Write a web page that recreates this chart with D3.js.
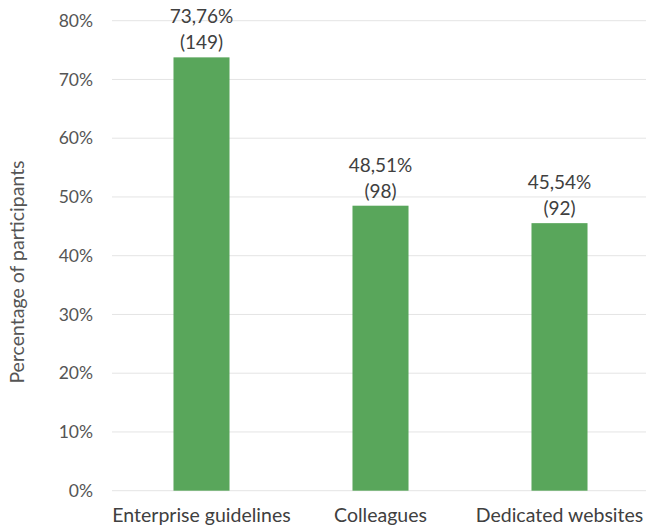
<!DOCTYPE html>
<html>
<head>
<meta charset="utf-8">
<script src="https://cdn.jsdelivr.net/npm/d3@7"></script>
<style>
  body { margin: 0; background: #fff; }
  text { font-family: Lato, "Open Sans", sans-serif; }
</style>
</head>
<body>
<svg id="chart"></svg>
<script>
const width = 646;
const height = 527;
const margin = { top: 20.7, right: -3, bottom: 36.3, left: 112 };

// data
const categories = ["Enterprise guidelines", "Colleagues", "Dedicated websites"];
const percents = [73.76, 48.51, 45.54];
const counts = [149, 98, 92];
const yTicks = [0, 10, 20, 30, 40, 50, 60, 70, 80];

const data = categories.map((c, i) => ({ cat: c, pct: percents[i], n: counts[i] }));

const svg = d3.select("#chart")
  .attr("width", width)
  .attr("height", height)
  .attr("viewBox", [0, 0, width, height]);

const x = d3.scaleBand()
  .domain(categories)
  .range([margin.left, width - margin.right])
  .paddingInner(0.687)
  .paddingOuter(0.3435);

const y = d3.scaleLinear()
  .domain([0, 80])
  .range([height - margin.bottom, margin.top]);

// gridlines
svg.append("g")
  .selectAll("line")
  .data(yTicks)
  .join("line")
  .attr("x1", margin.left)
  .attr("x2", width)
  .attr("y1", d => y(d))
  .attr("y2", d => y(d))
  .attr("stroke", "#e4e4e4")
  .attr("stroke-width", 1);

// y tick labels
svg.append("g")
  .selectAll("text")
  .data(yTicks)
  .join("text")
  .attr("x", 93)
  .attr("y", d => y(d))
  .attr("dy", "0.35em")
  .attr("text-anchor", "end")
  .attr("fill", "#555")
  .style("font-size", "17.5px")
  .text(d => d + "%");

// bars
svg.append("g")
  .selectAll("rect")
  .data(data)
  .join("rect")
  .attr("x", d => x(d.cat))
  .attr("width", x.bandwidth())
  .attr("y", d => y(d.pct))
  .attr("height", d => y(0) - y(d.pct))
  .attr("fill", "#59a65b");

// value labels
const labels = svg.append("g")
  .selectAll("text")
  .data(data)
  .join("text")
  .attr("text-anchor", "middle")
  .attr("fill", "#404040")
  .style("font-size", "19px");

labels.append("tspan")
  .attr("x", d => x(d.cat) + x.bandwidth() / 2)
  .attr("y", d => y(d.pct) - 34)
  .text(d => d.pct.toFixed(2).replace(".", ",") + "%");

labels.append("tspan")
  .attr("x", d => x(d.cat) + x.bandwidth() / 2)
  .attr("y", d => y(d.pct) - 8)
  .text(d => "(" + d.n + ")");

// x category labels
svg.append("g")
  .selectAll("text")
  .data(categories)
  .join("text")
  .attr("x", d => x(d) + x.bandwidth() / 2)
  .attr("y", 522)
  .attr("text-anchor", "middle")
  .attr("fill", "#404040")
  .style("font-size", "19.5px")
  .text(d => d);

// y-axis title
svg.append("text")
  .attr("transform", "rotate(-90)")
  .attr("x", -272)
  .attr("y", 24)
  .attr("text-anchor", "middle")
  .attr("fill", "#555")
  .style("font-size", "19.5px")
  .text("Percentage of participants");
</script>
</body>
</html>
